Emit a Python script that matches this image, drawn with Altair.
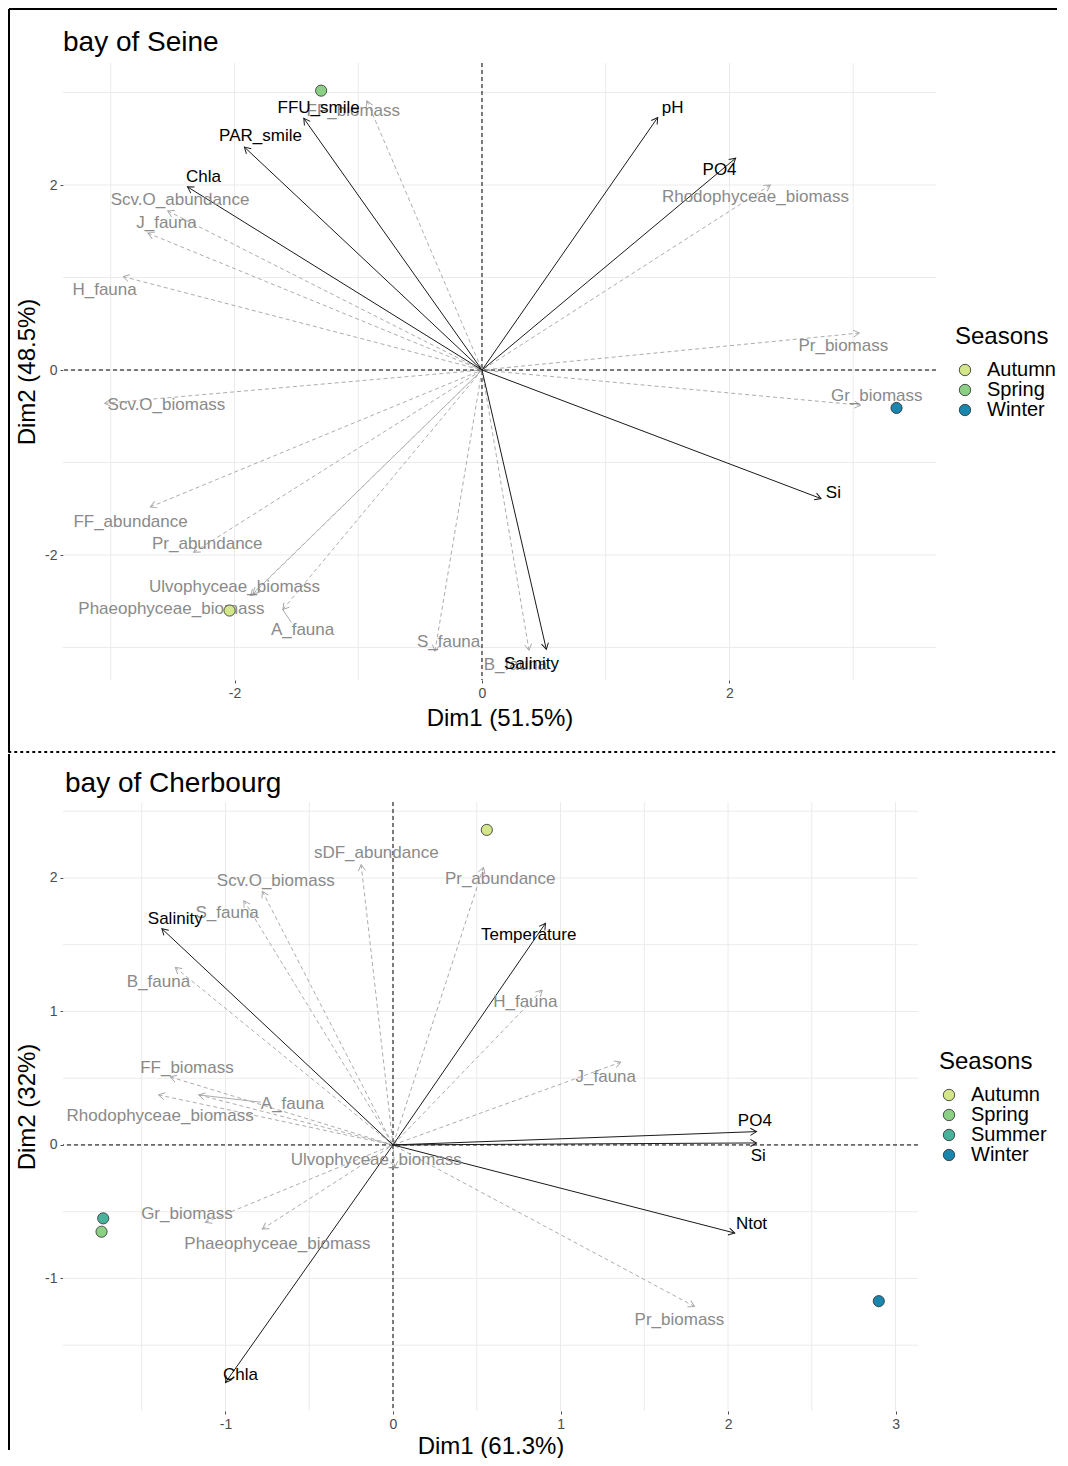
import altair as alt
import pandas as pd

FONT = "Liberation Sans"
GREY_TXT = "#8a8a8a"
GREY_LINE = "#a3a3a3"
SUP_COL = "#1a1a1a"
ARROW = "M-1,-0.58L0,0L-1,0.58"

season_names = ["Autumn", "Spring", "Summer", "Winter"]
season_colors = ["#d4e68a", "#8bd084", "#48b29b", "#1a86ad"]

# ---------------- bay of Seine ----------------
seine_act_names = ["FF_biomass", "Scv.O_abundance", "J_fauna", "H_fauna", "Scv.O_biomass",
                   "FF_abundance", "Pr_abundance", "Ulvophyceae_biomass", "Phaeophyceae_biomass",
                   "A_fauna", "S_fauna", "B_fauna", "Rhodophyceae_biomass", "Pr_biomass", "Gr_biomass"]
seine_act_x = [-0.93, -2.54, -2.70, -2.90, -3.05, -2.68, -2.33, -1.85, -1.87, -1.61, -0.38, 0.38, 2.33, 3.05, 3.06]
seine_act_y = [2.91, 1.72, 1.48, 1.01, -0.36, -1.48, -1.97, -2.42, -2.44, -2.59, -3.04, -3.03, 2.00, 0.40, -0.38]
seine_act_lx = [-1.04, -2.44, -2.55, -3.05, -2.55, -2.84, -2.22, -2.00, -2.51, -1.45, -0.27, 0.27, 2.21, 2.92, 3.19]
seine_act_ly = [2.80, 1.84, 1.59, 0.86, -0.38, -1.64, -1.88, -2.35, -2.58, -2.81, -2.94, -3.19, 1.87, 0.26, -0.28]

seine_sup_names = ["FFU_smile", "PAR_smile", "Chla", "pH", "PO4", "Si", "Salinity"]
seine_sup_x = [-1.44, -1.92, -2.38, 1.42, 2.05, 2.74, 0.52]
seine_sup_y = [2.72, 2.41, 1.98, 2.73, 2.29, -1.39, -3.02]
seine_sup_lx = [-1.32, -1.79, -2.25, 1.54, 1.92, 2.84, 0.40]
seine_sup_ly = [2.83, 2.53, 2.09, 2.83, 2.16, -1.33, -3.18]

seine_seasons = ["Autumn", "Spring", "Winter"]
seine_ind_x = [-2.04, -1.30, 3.35]
seine_ind_y = [-2.60, 3.02, -0.41]

seine_seg_x = [-1.61]
seine_seg_y = [-2.59]
seine_seg_x2 = [-1.54]
seine_seg_y2 = [-2.73]

# ---------------- bay of Cherbourg ----------------
cher_act_names = ["sDF_abundance", "Scv.O_biomass", "S_fauna", "B_fauna", "FF_biomass", "A_fauna",
                  "Rhodophyceae_biomass", "Ulvophyceae_biomass", "Gr_biomass", "Phaeophyceae_biomass",
                  "Pr_biomass", "J_fauna", "H_fauna", "Pr_abundance"]
cher_act_x = [-0.19, -0.78, -0.89, -1.30, -1.33, -1.16, -1.40, 0.01, -1.12, -0.78, 1.80, 1.36, 0.89, 0.54]
cher_act_y = [2.10, 1.90, 1.83, 1.33, 0.51, 0.375, 0.375, -0.17, -0.58, -0.63, -1.21, 0.62, 1.16, 2.08]
cher_act_lx = [-0.10, -0.70, -0.99, -1.40, -1.23, -0.60, -1.39, -0.10, -1.23, -0.69, 1.71, 1.27, 0.79, 0.64]
cher_act_ly = [2.19, 1.98, 1.74, 1.22, 0.58, 0.31, 0.22, -0.11, -0.52, -0.74, -1.31, 0.51, 1.07, 1.99]

cher_sup_names = ["Salinity", "Temperature", "PO4", "Si", "Ntot", "Chla"]
cher_sup_x = [-1.38, 0.91, 2.17, 2.17, 2.04, -1.00]
cher_sup_y = [1.62, 1.66, 0.10, 0.015, -0.66, -1.78]
cher_sup_lx = [-1.30, 0.81, 2.16, 2.18, 2.14, -0.91]
cher_sup_ly = [1.69, 1.57, 0.18, -0.08, -0.59, -1.72]

cher_seasons = ["Autumn", "Spring", "Summer", "Winter"]
cher_ind_x = [0.56, -1.74, -1.73, 2.90]
cher_ind_y = [2.36, -0.65, -0.55, -1.17]

cher_seg_x = [-1.16]
cher_seg_y = [0.375]
cher_seg_x2 = [-0.79]
cher_seg_y2 = [0.32]

TICK_EXPR = "datum.value < 0 ? '-' + abs(datum.value) : '' + datum.value"


def panel(title, title_dx, title_dy, act, sup, ind, seg, xdom, ydom, W, H, gx, gy,
          xticks, yticks, xtitle, ytitle, legend_xy, frame, xtitle_pad):
    xs = alt.Scale(domain=xdom, nice=False, zero=False)
    ys = alt.Scale(domain=ydom, nice=False, zero=False)
    common = dict(grid=False, domain=False, ticks=True, tickSize=3, tickColor="#4d4d4d",
                  labelColor="#4d4d4d", labelFontSize=14, labelFont=FONT, titleFont=FONT,
                  titleFontSize=24, titleFontWeight="normal", titleColor="black", labelPadding=3,
                  labelExpr=TICK_EXPR)
    xaxis = alt.Axis(title=xtitle, values=xticks, titlePadding=xtitle_pad, **common)
    yaxis = alt.Axis(title=ytitle, values=yticks, titlePadding=5, **common)

    def X(f):
        return alt.X(f, type="quantitative", scale=xs, axis=xaxis)

    def Y(f):
        return alt.Y(f, type="quantitative", scale=ys, axis=yaxis)

    kx = W / (xdom[1] - xdom[0])
    ky = H / (ydom[1] - ydom[0])
    ang = f"(atan2(-datum.y*{ky}, datum.x*{kx})*180/PI + 360) % 360"

    grid_x = alt.Chart(pd.DataFrame({"g": gx})).mark_rule(color="#ebebeb", strokeWidth=1).encode(x=X("g"))
    grid_y = alt.Chart(pd.DataFrame({"g": gy})).mark_rule(color="#ebebeb", strokeWidth=1).encode(y=Y("g"))
    zdf = pd.DataFrame({"z": [0]})
    zero_v = alt.Chart(zdf).mark_rule(color="black", strokeDash=[4, 3], strokeWidth=1).encode(x=X("z"))
    zero_h = alt.Chart(zdf).mark_rule(color="black", strokeDash=[4, 3], strokeWidth=1).encode(y=Y("z"))

    act_df = pd.DataFrame({"name": act[0], "x": act[1], "y": act[2], "lx": act[3], "ly": act[4]})
    sup_df = pd.DataFrame({"name": sup[0], "x": sup[1], "y": sup[2], "lx": sup[3], "ly": sup[4]})

    act_base = alt.Chart(act_df).transform_calculate(o="0", ang=ang)
    sup_base = alt.Chart(sup_df).transform_calculate(o="0", ang=ang)

    act_lines = act_base.mark_rule(color=GREY_LINE, strokeDash=[4, 3], strokeWidth=0.9).encode(
        x=X("x"), y=Y("y"), x2=alt.X2(field="o"), y2=alt.Y2(field="o"))
    act_heads = act_base.mark_point(shape=ARROW, filled=False, size=150, color=GREY_LINE,
                                    strokeWidth=0.9, opacity=1).encode(
        x=X("x"), y=Y("y"), angle=alt.Angle("ang:Q", scale=None))
    sup_lines = sup_base.mark_rule(color=SUP_COL, strokeWidth=1).encode(
        x=X("x"), y=Y("y"), x2=alt.X2(field="o"), y2=alt.Y2(field="o"))
    sup_heads = sup_base.mark_point(shape=ARROW, filled=False, size=150, color=SUP_COL,
                                    strokeWidth=1, opacity=1).encode(
        x=X("x"), y=Y("y"), angle=alt.Angle("ang:Q", scale=None))

    seg_df = pd.DataFrame({"x": seg[0], "y": seg[1], "x2": seg[2], "y2": seg[3]})
    segs = alt.Chart(seg_df).mark_rule(color=GREY_LINE, strokeWidth=0.9).encode(
        x=X("x"), y=Y("y"), x2=alt.X2(field="x2"), y2=alt.Y2(field="y2"))

    act_txt = alt.Chart(act_df).mark_text(font=FONT, fontSize=17, color=GREY_TXT).encode(
        x=X("lx"), y=Y("ly"), text="name:N")
    sup_txt = alt.Chart(sup_df).mark_text(font=FONT, fontSize=17, color="black").encode(
        x=X("lx"), y=Y("ly"), text="name:N")

    ind_df = pd.DataFrame({"season": ind[0], "x": ind[1], "y": ind[2]})
    pts = alt.Chart(ind_df).mark_point(filled=True, size=125, stroke="#2b2b2b", strokeWidth=0.8,
                                       opacity=1).encode(
        x=X("x"), y=Y("y"),
        fill=alt.Fill("season:N",
                      scale=alt.Scale(domain=ind[3], range=[season_colors[season_names.index(s)] for s in ind[3]]),
                      legend=alt.Legend(title="Seasons", orient="none", legendX=legend_xy[0],
                                        legendY=legend_xy[1], titleFont=FONT, titleFontSize=24,
                                        titleFontWeight="normal", titleColor="black", labelFont=FONT,
                                        labelFontSize=20, labelColor="black", symbolType="circle",
                                        symbolSize=130, symbolStrokeColor="#2b2b2b",
                                        symbolStrokeWidth=0.8, symbolOpacity=1, rowPadding=0,
                                        titlePadding=11, labelOffset=12, padding=0)))

    dummy = pd.DataFrame({"t": [title]})
    ttl = alt.Chart(dummy).mark_text(align="left", baseline="alphabetic", font=FONT, fontSize=28,
                                     color="black").encode(
        x=alt.value(title_dx), y=alt.value(title_dy), text="t:N")

    layers = [grid_x, grid_y, zero_v, zero_h, act_lines, sup_lines, act_heads, sup_heads, segs,
              act_txt, sup_txt, pts, ttl]

    fl = frame
    left = alt.Chart(dummy).mark_rule(color="black", strokeWidth=2).encode(
        x=alt.value(fl["left"]), y=alt.value(fl["top"]), y2=alt.value(fl["bottom"]))
    layers.append(left)
    if fl.get("topline"):
        topl = alt.Chart(dummy).mark_rule(color="black", strokeWidth=2).encode(
            x=alt.value(fl["left"]), x2=alt.value(fl["right"]), y=alt.value(fl["top"]))
        layers.append(topl)
    if fl.get("sep"):
        sep = alt.Chart(dummy).mark_rule(color="black", strokeWidth=1.8, strokeDash=[1.5, 4.5],
                                         strokeCap="round").encode(
            x=alt.value(fl["left"]), x2=alt.value(fl["right"]), y=alt.value(fl["bottom"]))
        layers.append(sep)

    return alt.layer(*layers).properties(
        width=W, height=H, view=alt.ViewBackground(stroke=None, strokeWidth=0))


top = panel(
    "bay of Seine", 0, -12,
    (seine_act_names, seine_act_x, seine_act_y, seine_act_lx, seine_act_ly),
    (seine_sup_names, seine_sup_x, seine_sup_y, seine_sup_lx, seine_sup_ly),
    (seine_seasons, seine_ind_x, seine_ind_y, seine_seasons),
    (seine_seg_x, seine_seg_y, seine_seg_x2, seine_seg_y2),
    [-3.386, 3.669], [-3.351, 3.319], 873, 617,
    [-3, -2, -1, 0, 1, 2, 3], [-3, -2, -1, 0, 1, 2, 3],
    [-2, 0, 2], [-2, 0, 2], "Dim1 (51.5%)", "Dim2 (48.5%)",
    (892, 262),
    {"left": -54, "top": -54, "bottom": 689, "right": 994, "topline": True, "sep": True},
    6,
)

bottom = panel(
    "bay of Cherbourg", 2, -10,
    (cher_act_names, cher_act_x, cher_act_y, cher_act_lx, cher_act_ly),
    (cher_sup_names, cher_sup_x, cher_sup_y, cher_sup_lx, cher_sup_ly),
    (cher_seasons, cher_ind_x, cher_ind_y, cher_seasons),
    (cher_seg_x, cher_seg_y, cher_seg_x2, cher_seg_y2),
    [-1.970, 3.134], [-1.993, 2.569], 855, 609,
    [-1.5, -1, -0.5, 0, 0.5, 1, 1.5, 2, 2.5, 3], [-1.5, -1, -0.5, 0, 0.5, 1, 1.5, 2, 2.5],
    [-1, 0, 1, 2, 3], [-1, 0, 1, 2], "Dim1 (61.3%)", "Dim2 (32%)",
    (876, 248),
    {"left": -54, "top": -48, "bottom": 648},
    3,
)

chart = alt.vconcat(top, bottom, spacing=0).resolve_scale(
    x="independent", y="independent", fill="independent"
).resolve_legend(fill="independent").properties(padding=0).configure_view(
    stroke=None).configure(background="white")

chart.save("out.html", embed_options={"renderer": "svg", "actions": False})
